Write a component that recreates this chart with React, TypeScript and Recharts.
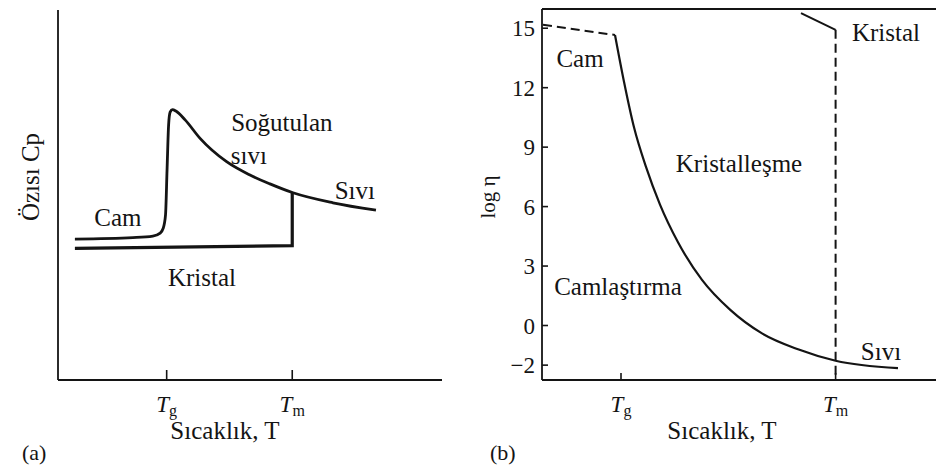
import React from 'react';
import { LineChart, Line, XAxis, YAxis, ReferenceDot, Label } from 'recharts';

const INK = '#141414';
const SERIF = 'Liberation Serif';

// (a) özısı — sıcaklık keyfi birim (0..100)
const TG_A = 28.3;
const TM_A = 61;
const glassT = [4.4, 19.5, 24.7, 26.6, 27.4, 28.0, 28.4, 28.8, 29.2, 29.8, 30.7, 33.1, 37.0, 43.9, 50.0, 55.2, 61.2, 71.6, 82.8];
const glassCp = [38.1, 38.5, 38.9, 39.7, 41.0, 44.6, 56.8, 68.9, 72.4, 73.1, 72.7, 70.3, 65.3, 59.0, 55.4, 53.0, 50.6, 47.9, 45.9];
const crystalT = [4.4, 61, 61];
const crystalCp = [35.6, 36.3, 50.6];

// (b) log viskozite
const TG_B = 19.75;
const TM_B = 73.4;
const glassDashT = [0.25, 18.25];
const glassDashLog = [15.17, 14.66];
const liquidT = [18.25, 20.5, 23, 26, 29.5, 34, 40, 47, 55, 64, 73.4, 89];
const liquidLog = [14.66, 12.3, 10.0, 8.0, 6.1, 4.2, 2.3, 0.8, -0.4, -1.2, -1.78, -2.15];
const crystalBT = [64.75, 73.4];
const crystalBLog = [15.76, 14.92];
const meltT = [73.4, 73.4];
const meltLog = [14.92, -2.75];
const logTicks = [-2, 0, 3, 6, 9, 12, 15];
const subs = ['g', 'm'];

const zip = (xs: number[], ys: number[]) => xs.map((x, i) => ({ x, y: ys[i] }));

const notesA = [
  { text: 'Cam', x: 15.6, y: 44 },
  { text: 'Soğutulan', x: 58.3, y: 69.7 },
  { text: 'sıvı', x: 49.7, y: 60.8 },
  { text: 'Sıvı', x: 77.3, y: 51.4 },
  { text: 'Kristal', x: 37.5, y: 27.8 },
];
const notesB = [
  { text: 'Cam', x: 9.5, y: 13.5 },
  { text: 'Kristal', x: 86, y: 14.81 },
  { text: 'Kristalleşme', x: 49.25, y: 8.21 },
  { text: 'Camlaştırma', x: 19, y: 1.97 },
  { text: 'Sıvı', x: 84.75, y: -1.3 },
];

const TempTick = ({ x, y, index, len }: any) => (
  <g>
    <line x1={x} y1={y} x2={x} y2={y - len} stroke={INK} strokeWidth={1.6} />
    <text x={x} y={y + 32} textAnchor="middle" style={{ fontFamily: SERIF }} fill={INK}>
      <tspan fontStyle="italic" fontSize={23}>T</tspan>
      <tspan fontSize={16} dy={4}>{subs[index]}</tspan>
    </text>
  </g>
);

const LogTick = ({ x, y, payload }: any) => (
  <g>
    <line x1={x} y1={y} x2={x + 6} y2={y} stroke={INK} strokeWidth={1.6} />
    <text x={x - 7} y={y} dy="0.35em" textAnchor="end" style={{ fontFamily: SERIF }} fontSize={23} fill={INK}>
      {payload.value < 0 ? '\u2212' + Math.abs(payload.value) : payload.value}
    </text>
  </g>
);

const noteLabel = (text: string) => ({
  value: text,
  position: 'center' as const,
  fontSize: 25,
  style: { fontFamily: SERIF },
  fill: INK,
});

const axisStyle = { stroke: INK, strokeWidth: 1.8 };

const App: React.FC = () => {
  return (
    <div style={{ position: 'absolute', left: 0, top: 0, width: 936, height: 468, overflow: 'hidden', background: '#fff', fontFamily: SERIF }}>
      <div style={{ position: 'absolute', left: 0, top: 0 }}>
        <LineChart width={468} height={468} margin={{ top: 10, right: 26, left: 18, bottom: 48 }}>
          <XAxis type="number" dataKey="x" domain={[0, 100]} allowDataOverflow ticks={[TG_A, TM_A]} tick={<TempTick len={10} />} tickLine={false} tickSize={0} tickMargin={0} axisLine={axisStyle} height={40}>
            <Label content={() => (<text x={225} y={439} textAnchor="middle" style={{ fontFamily: SERIF }} fontSize={25} fill={INK}>Sıcaklık, T</text>)} />
          </XAxis>
          <YAxis type="number" dataKey="y" domain={[0, 100]} allowDataOverflow tick={false} tickLine={false} axisLine={axisStyle} width={40}>
            <Label content={() => (<text x={39} y={177} transform="rotate(-90 39 177)" textAnchor="middle" style={{ fontFamily: SERIF }} fontSize={25} fill={INK}>Özısı Cp</text>)} />
          </YAxis>
          <Line data={zip(crystalT, crystalCp)} dataKey="y" type="linear" stroke={INK} strokeWidth={3.2} dot={false} activeDot={false} isAnimationActive={false} />
          <Line data={zip(glassT, glassCp)} dataKey="y" type="monotone" stroke={INK} strokeWidth={2.8} dot={false} activeDot={false} isAnimationActive={false} />
          {notesA.map((n) => (
            <ReferenceDot key={n.text} x={n.x} y={n.y} r={0} fill="none" stroke="none" label={noteLabel(n.text)} />
          ))}
        </LineChart>
      </div>

      <div style={{ position: 'absolute', left: 468, top: 0 }}>
        <LineChart width={480} height={468} margin={{ top: 8, right: 6, left: 14, bottom: 48 }}>
          <XAxis xAxisId="top" orientation="top" type="number" domain={[0, 100]} allowDataOverflow tick={false} tickLine={false} axisLine={axisStyle} height={1} />
          <XAxis type="number" dataKey="x" domain={[0, 100]} allowDataOverflow ticks={[TG_B, TM_B]} tick={<TempTick len={7} />} tickLine={false} tickSize={0} tickMargin={0} axisLine={axisStyle} height={40}>
            <Label content={() => (<text x={254} y={439} textAnchor="middle" style={{ fontFamily: SERIF }} fontSize={25} fill={INK}>Sıcaklık, T</text>)} />
          </XAxis>
          <YAxis type="number" dataKey="y" domain={[-2.75, 15.97]} allowDataOverflow ticks={logTicks} tick={<LogTick />} tickLine={false} tickSize={0} tickMargin={0} axisLine={axisStyle} width={60}>
            <Label content={() => (<text x={27} y={197} transform="rotate(-90 27 197)" textAnchor="middle" style={{ fontFamily: SERIF }} fontSize={21} fill={INK}>log η</text>)} />
          </YAxis>
          <Line data={zip(glassDashT, glassDashLog)} dataKey="y" type="linear" stroke={INK} strokeWidth={2} strokeDasharray="9 5" dot={false} activeDot={false} isAnimationActive={false} />
          <Line data={zip(liquidT, liquidLog)} dataKey="y" type="monotone" stroke={INK} strokeWidth={2.2} dot={false} activeDot={false} isAnimationActive={false} />
          <Line data={zip(crystalBT, crystalBLog)} dataKey="y" type="linear" stroke={INK} strokeWidth={2} dot={false} activeDot={false} isAnimationActive={false} />
          <Line data={zip(meltT, meltLog)} dataKey="y" type="linear" stroke={INK} strokeWidth={2} strokeDasharray="9 5" dot={false} activeDot={false} isAnimationActive={false} />
          {notesB.map((n) => (
            <ReferenceDot key={n.text} x={n.x} y={n.y} r={0} fill="none" stroke="none" label={noteLabel(n.text)} />
          ))}
        </LineChart>
      </div>

      <div style={{ position: 'absolute', left: 22, top: 440, fontSize: 22, color: INK }}>(a)</div>
      <div style={{ position: 'absolute', left: 490, top: 440, fontSize: 22, color: INK }}>(b)</div>
    </div>
  );
};

export default App;
